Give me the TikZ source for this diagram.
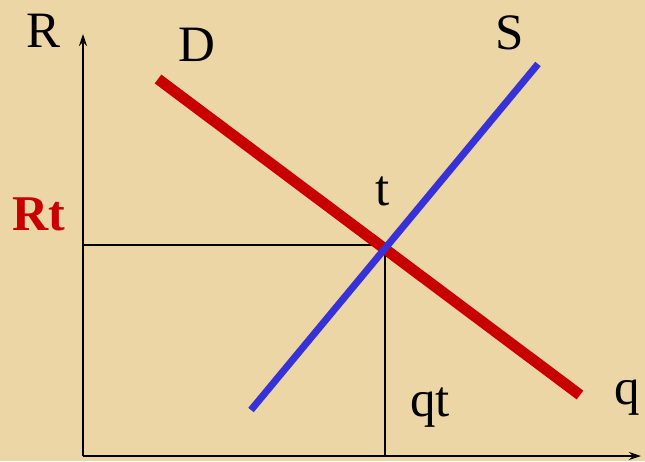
\documentclass[tikz,border=0pt]{standalone}
\usepackage{fontspec}
\setmainfont{Liberation Serif}
\usetikzlibrary{arrows.meta}
\definecolor{bg}{RGB}{236,214,166}
\definecolor{dred}{RGB}{200,0,0}
\definecolor{sblue}{RGB}{55,50,215}
\tikzset{
  lbl/.style={inner sep=0pt, font=\fontsize{51}{51}\selectfont},
  axis/.style={line width=1.5pt, -{Stealth[length=12pt,width=8pt]}},
  guide/.style={line width=1.8pt},
}
\begin{document}
\begin{tikzpicture}[x=1pt,y=-1pt]
\fill[bg] (0,0) rectangle (645,461);
\useasboundingbox (0,0) rectangle (645,461);
\coordinate (O) at (83,456);
\coordinate (Ytop) at (83,34);
\coordinate (Xend) at (641,456);
\coordinate (Rl) at (83,245);
\coordinate (T) at (385,245);
\coordinate (Qb) at (385,456);
\draw[guide] (Rl) -- (T) -- (Qb);
\draw[axis] (O) -- (Ytop);
\draw[axis] (O) -- (Xend);
\coordinate (D1) at (158,79);
\coordinate (D2) at (580,395);
\coordinate (S1) at (251,410);
\coordinate (S2) at (538,64);
\draw[dred, line width=11pt] (D1) -- (D2);
\draw[sblue, line width=7pt] (S1) -- (S2);
\node[lbl] (R) at (44,31) {R};
\node[lbl] (D) at (197,45) {D};
\node[lbl] (S) at (510,33) {S};
\node[lbl] (t) at (383,191) {t};
\node[lbl, text=dred, font=\fontsize{50}{50}\selectfont\bfseries] (Rt) at (39,214) {Rt};
\node[lbl] (qt) at (430,408) {qt};
\node[lbl] (q) at (627,398) {q};
\end{tikzpicture}
\end{document}
